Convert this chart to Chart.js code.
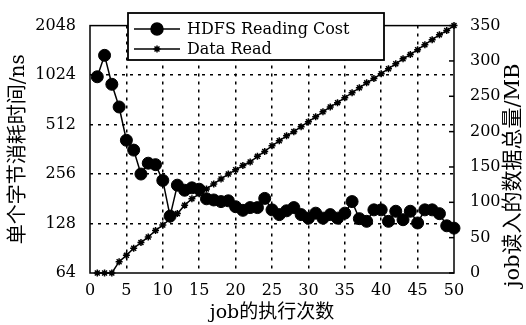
<!DOCTYPE html>
<html>
<head>
<meta charset="utf-8">
<script src="https://cdn.jsdelivr.net/npm/chart.js@4/dist/chart.umd.min.js"></script>
<style>
  html, body { margin: 0; padding: 0; background: #fff; }
</style>
</head>
<body>
<canvas id="costChart" width="526" height="325"></canvas>
<script>
// Dados
const jobs = [1, 2, 3, 4, 5, 6, 7, 8, 9, 10, 11, 12, 13, 14, 15, 16, 17, 18, 19, 20,
    21, 22, 23, 24, 25, 26, 27, 28, 29, 30, 31, 32, 33, 34, 35, 36, 37, 38, 39, 40,
    41, 42, 43, 44, 45, 46, 47, 48, 49, 50];
const hdfsCost = [1000, 1350, 900, 655, 411, 358, 256, 298, 292, 234,
    142, 219, 204, 211, 207, 181, 178, 174, 176, 162,
    154, 160, 160, 182, 155, 145, 153, 160, 145, 138,
    148, 138, 145, 138, 148, 174, 137, 132, 155, 155,
    132, 152, 135, 152, 129, 155, 155, 147, 124, 120];
const dataRead = [0, 0, 0, 16, 25, 35, 43, 51, 60, 68,
    76, 84, 96, 105, 112, 119, 126, 133, 140, 146,
    152, 157, 165, 172, 180, 187, 194, 200, 207, 214,
    221, 228, 235, 241, 248, 255, 262, 269, 275, 282,
    289, 296, 303, 309, 316, 323, 330, 337, 343, 350];
const xTicks = [0, 5, 10, 15, 20, 25, 30, 35, 40, 45, 50];
const leftTicks = [64, 128, 256, 512, 1024, 2048];
const rightTicks = [0, 50, 100, 150, 200, 250, 300, 350];
const seriesLabels = ["HDFS Reading Cost", "Data Read"];
const xTitle = "job的执行次数";
const leftTitle = "单个字节消耗时间/ns";
const rightTitle = "job读入的数据总量/MB";

const serif = "'DejaVu Serif', 'Noto Sans CJK SC', serif";

// grade tracejada, escondida nas bordas
const gridColor = (edges) => (c) => (c.tick && edges.includes(c.tick.value)) ? "rgba(0,0,0,0)" : "#000";

// ==========================================
// PLUGIN: moldura, títulos verticais e legenda
// ==========================================
const framePlugin = {
    id: "frame",
    afterDraw(chart) {
        const { ctx, chartArea: a, scales } = chart;
        ctx.save();

        // moldura
        ctx.strokeStyle = "#000";
        ctx.lineWidth = 1.5;
        ctx.setLineDash([]);
        ctx.strokeRect(a.left, a.top, a.right - a.left, a.bottom - a.top);

        // marcas internas do eixo direito
        rightTicks.forEach(v => {
            const y = scales.y2.getPixelForValue(v);
            ctx.beginPath();
            ctx.moveTo(a.right - 5, y);
            ctx.lineTo(a.right, y);
            ctx.stroke();
        });

        // títulos dos eixos Y
        ctx.fillStyle = "#000";
        ctx.textAlign = "center";
        ctx.textBaseline = "middle";
        ctx.font = "20px " + serif;
        const midY = (a.top + a.bottom) / 2;
        ctx.save();
        ctx.translate(19, midY);
        ctx.rotate(-Math.PI / 2);
        ctx.fillText(leftTitle, 0, 0);
        ctx.restore();
        ctx.font = "21px " + serif;
        ctx.save();
        ctx.translate(514, midY + 26);
        ctx.rotate(-Math.PI / 2);
        ctx.fillText(rightTitle, 0, 0);
        ctx.restore();

        // legenda
        const box = { x: a.left + 38, y: 13, w: 256, h: 47 };
        ctx.fillStyle = "#fff";
        ctx.fillRect(box.x, box.y, box.w, box.h);
        ctx.lineWidth = 1.8;
        ctx.strokeRect(box.x, box.y, box.w, box.h);
        ctx.font = "16px " + serif;
        ctx.textAlign = "left";
        chart.data.datasets.forEach((ds, i) => {
            const ly = box.y + 16 + i * 20;
            ctx.strokeStyle = "#000";
            ctx.fillStyle = "#000";
            ctx.lineWidth = 1.5;
            ctx.beginPath();
            ctx.moveTo(box.x + 6, ly);
            ctx.lineTo(box.x + 52, ly);
            ctx.stroke();
            Chart.helpers.drawPoint(ctx, {
                pointStyle: ds.pointStyle,
                radius: ds.pointRadius,
                rotation: 0,
                borderWidth: ds.pointBorderWidth
            }, box.x + 29, ly);
            ctx.fillStyle = "#000";
            ctx.fillText(ds.label, box.x + 59, ly + 1);
        });

        ctx.restore();
    }
};

const ctx = document.getElementById("costChart");

new Chart(ctx, {
    type: "line",
    data: {
        datasets: [{
            label: seriesLabels[0],
            data: jobs.map((j, i) => ({ x: j, y: hdfsCost[i] })),
            yAxisID: "y",
            borderColor: "#000",
            borderWidth: 1.5,
            pointStyle: "circle",
            pointRadius: 6,
            pointBorderWidth: 1,
            pointBackgroundColor: "#000",
            pointBorderColor: "#000",
            fill: false,
            tension: 0,
            clip: false
        }, {
            label: seriesLabels[1],
            data: jobs.map((j, i) => ({ x: j, y: dataRead[i] })),
            yAxisID: "y2",
            borderColor: "#000",
            borderWidth: 1.5,
            pointStyle: "star",
            pointRadius: 3.5,
            pointBorderWidth: 1.5,
            pointBackgroundColor: "#000",
            pointBorderColor: "#000",
            fill: false,
            tension: 0,
            clip: false
        }]
    },
    options: {
        responsive: false,
        devicePixelRatio: 1,
        animation: false,
        layout: { padding: { top: 20, left: 0, right: 0, bottom: 0 } },
        plugins: {
            legend: { display: false },
            tooltip: { enabled: false }
        },
        scales: {
            x: {
                type: "linear",
                min: 0,
                max: 50,
                afterBuildTicks: s => { s.ticks = xTicks.map(v => ({ value: v })); },
                afterFit: s => { s.height = 52; },
                ticks: { color: "#000", font: { family: serif, size: 16 }, padding: 8, maxRotation: 0 },
                grid: { color: gridColor([0, 50]), lineWidth: 1.5, drawTicks: false },
                border: { display: false, dash: [3, 5] },
                title: { display: true, text: xTitle, color: "#000", font: { family: serif, size: 19 }, padding: { top: 0, bottom: 1 } }
            },
            y: {
                type: "logarithmic",
                position: "left",
                min: 64,
                max: 2048,
                afterBuildTicks: s => { s.ticks = leftTicks.map(v => ({ value: v })); },
                afterFit: s => { s.width = 90; },
                ticks: { color: "#000", font: { family: serif, size: 16 }, padding: 14, callback: v => String(v) },
                grid: { color: gridColor([64, 2048]), lineWidth: 1.5, drawTicks: false },
                border: { display: false, dash: [3, 5] }
            },
            y2: {
                type: "linear",
                position: "right",
                min: 0,
                max: 350,
                afterBuildTicks: s => { s.ticks = rightTicks.map(v => ({ value: v })); },
                afterFit: s => { s.width = 72; },
                ticks: { color: "#000", font: { family: serif, size: 16 }, padding: 16 },
                grid: { drawOnChartArea: false, drawTicks: false },
                border: { display: false }
            }
        }
    },
    plugins: [framePlugin]
});
</script>
</body>
</html>
